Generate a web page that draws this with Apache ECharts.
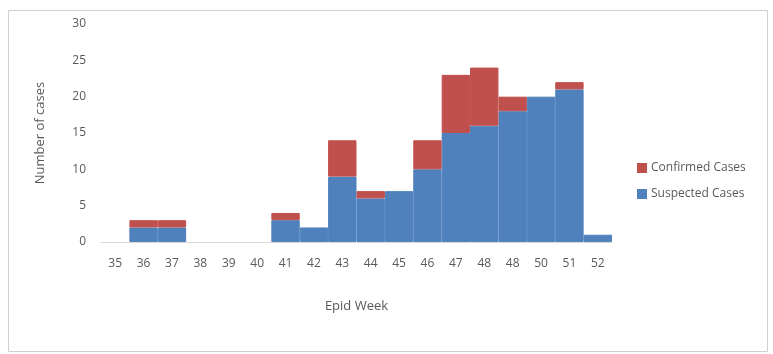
<!DOCTYPE html>
<html><head><meta charset="utf-8">
<script src="https://cdn.jsdelivr.net/npm/echarts@6/dist/echarts.min.js"></script>
<style>html,body{margin:0;padding:0;background:#fff}#c{width:773px;height:354px}</style>
</head><body><div id="c"></div>
<script>
var weeks = ['35','36','37','38','39','40','41','42','43','44','45','46','47','48','48','50','51','52'];
var suspected = [0,2,2,0,0,0,3,2,9,6,7,10,15,16,18,20,21,1];
var confirmed = [0,1,1,0,0,0,1,0,5,1,0,4,8,8,2,0,1,0];
var yTicks = [0,5,10,15,20,25,30];

function nz(arr){ return arr.map(function(v){ return v === 0 ? '-' : v; }); }

var chart = echarts.init(document.getElementById('c'));
var font = 'Open Sans';
chart.setOption({
  animation:false,
  graphic:[{type:'rect',shape:{x:8.5,y:10.5,width:759,height:341},style:{fill:'none',stroke:'#d0d0d0',lineWidth:1},silent:true}],
  grid:{left:101,right:161,top:24,bottom:112,containLabel:false},
  legend:{
    orient:'vertical', left:632, top:157, itemWidth:8, itemHeight:8, itemGap:14,
    icon:'rect',
    textStyle:{color:'#595959',fontSize:12,fontFamily:font},
    data:['Confirmed Cases','Suspected Cases']
  },
  xAxis:{
    type:'category', data:weeks,
    name:'Epid Week', nameLocation:'middle', nameGap:58,
    nameTextStyle:{color:'#595959',fontSize:13,fontFamily:font},
    axisLine:{lineStyle:{color:'#d9d9d9'}},
    axisTick:{show:false},
    axisLabel:{color:'#595959',fontSize:12,fontFamily:font,margin:16,interval:0}
  },
  yAxis:{
    type:'value', min:yTicks[0], max:yTicks[yTicks.length-1], interval:5,
    name:'Number of cases', nameLocation:'middle', nameGap:54,
    nameTextStyle:{color:'#595959',fontSize:13,fontFamily:font},
    axisLine:{show:false}, axisTick:{show:false}, splitLine:{show:false},
    axisLabel:{color:'#595959',fontSize:12,fontFamily:font,margin:15}
  },
  series:[
    {name:'Suspected Cases',type:'bar',stack:'a',data:nz(suspected),barCategoryGap:0,itemStyle:{color:'#4F81BD',borderColor:'#4F81BD',borderWidth:1}},
    {name:'Confirmed Cases',type:'bar',stack:'a',data:nz(confirmed),barCategoryGap:0,itemStyle:{color:'#C0504D',borderColor:'#C0504D',borderWidth:1}}
  ]
});
</script></body></html>
